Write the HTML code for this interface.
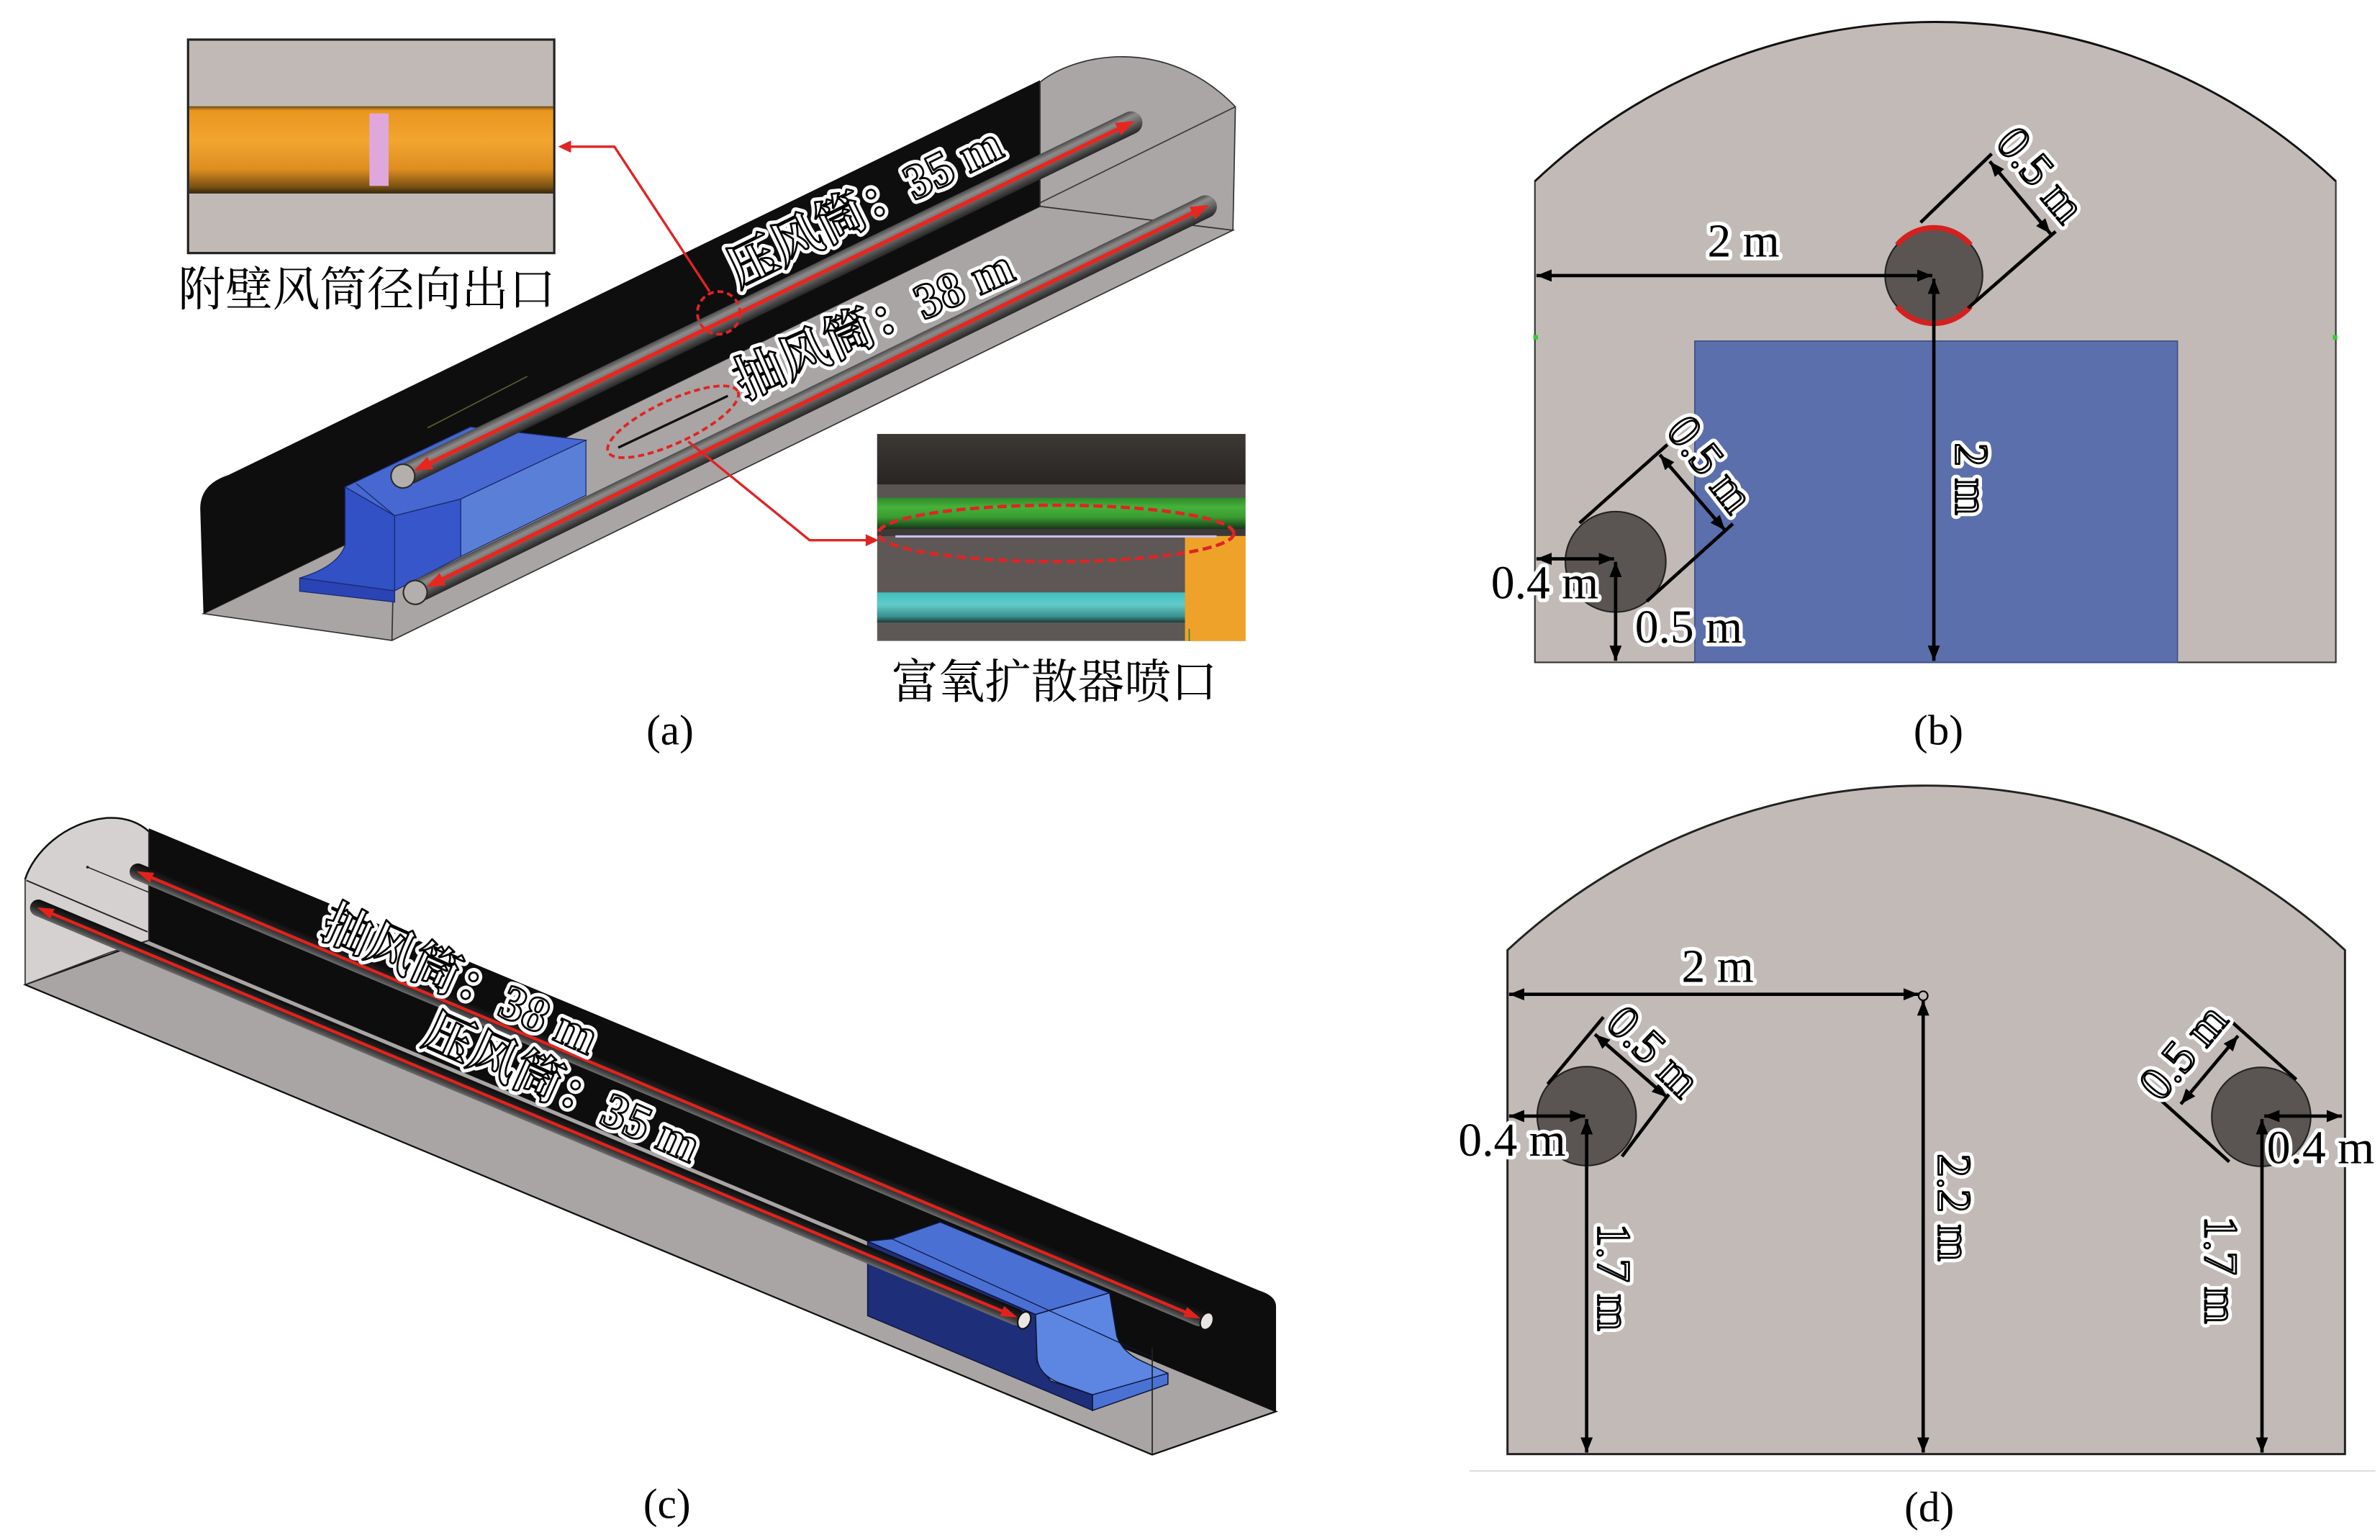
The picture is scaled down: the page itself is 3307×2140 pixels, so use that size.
<!DOCTYPE html>
<html><head><meta charset="utf-8">
<style>
html,body{margin:0;padding:0;background:#fff;}
svg{display:block;}
text{font-family:"Liberation Serif","Noto Serif CJK SC",serif;}
.h{fill:#fff;stroke:#fff;stroke-width:6;stroke-linejoin:round;}
.o{fill:#fff;stroke:#000;stroke-width:1.3;stroke-linejoin:round;}
.k{fill:#000;stroke:#fff;stroke-width:5;stroke-linejoin:round;paint-order:stroke;}
.d{stroke:#000;stroke-width:2.2;fill:none;}
.e{stroke:#000;stroke-width:2.2;fill:none;}
.cap{font-size:28px;fill:#000;}
.dim{font-size:31px;}
.ov{font-size:33px;font-weight:bold;}
</style></head><body>
<svg width="3307" height="2140" viewBox="0 0 1563 1011.4" preserveAspectRatio="none" xmlns="http://www.w3.org/2000/svg">
<defs>
 <marker id="ah" viewBox="0 0 10 8" refX="10" refY="4" markerWidth="10" markerHeight="8" markerUnits="userSpaceOnUse" orient="auto-start-reverse"><path d="M0,0L10,4L0,8Z" fill="#000"/></marker>
 <linearGradient id="pipeA" x1="0" y1="0" x2="0" y2="1">
  <stop offset="0" stop-color="#4a4a4a"/><stop offset="0.25" stop-color="#8e8c8b"/><stop offset="0.55" stop-color="#6c6a69"/><stop offset="1" stop-color="#262626"/>
 </linearGradient>
 <linearGradient id="pipeC" x1="0" y1="0" x2="0" y2="1">
  <stop offset="0" stop-color="#0c0c0c"/><stop offset="0.5" stop-color="#262626"/><stop offset="0.8" stop-color="#4a4a4a"/><stop offset="1" stop-color="#6e6e6e"/>
 </linearGradient>
 <linearGradient id="orng" x1="0" y1="0" x2="0" y2="1">
  <stop offset="0" stop-color="#6a4a12"/><stop offset="0.05" stop-color="#e8961e"/><stop offset="0.4" stop-color="#f3a531"/><stop offset="0.72" stop-color="#dd8e1f"/><stop offset="0.92" stop-color="#7a5214"/><stop offset="1" stop-color="#35270f"/>
 </linearGradient>
 <linearGradient id="topd" x1="0" y1="0" x2="0" y2="1">
  <stop offset="0" stop-color="#3c3834"/><stop offset="1" stop-color="#282523"/>
 </linearGradient>
 <linearGradient id="grn" x1="0" y1="0" x2="0" y2="1">
  <stop offset="0" stop-color="#2e8a28"/><stop offset="0.3" stop-color="#46b23a"/><stop offset="0.62" stop-color="#399c30"/><stop offset="1" stop-color="#17351a"/>
 </linearGradient>
 <linearGradient id="cyn" x1="0" y1="0" x2="0" y2="1">
  <stop offset="0" stop-color="#3fbfbf"/><stop offset="0.4" stop-color="#62cbc8"/><stop offset="0.8" stop-color="#3a8f8f"/><stop offset="1" stop-color="#1e3a3a"/>
 </linearGradient>
 <clipPath id="clip2"><rect x="576" y="285" width="242" height="136"/></clipPath>
</defs>

<rect x="0" y="0" width="1563" height="1011.4" fill="#fff"/>

<!-- ================= PANEL (a) ================= -->
<polygon points="133.6,403 257.4,420.6 809.7,151.2 683,135.5" fill="#a8a5a4" stroke="#333" stroke-width="0.8"/>
<path d="M133.6,403 L131.5,334 Q131.5,318 150,312 L683,52.7 L683,135.5 Z" fill="#0e0e0e"/>
<path d="M683,54 C705,36 765,22 811.3,70.1 L809.7,151.2 L683,135.5 Z" fill="#a9a6a5" stroke="#333" stroke-width="0.8"/>
<line x1="683" y1="133.2" x2="811.3" y2="70.1" stroke="#3a3a3a" stroke-width="0.8"/>
<line x1="280.8" y1="281" x2="346.3" y2="247.2" stroke="#55602a" stroke-width="0.8"/>
<line x1="259.2" y1="338.7" x2="257.4" y2="420.6" stroke="#333" stroke-width="0.8"/>

<!-- block (a) -->
<polygon points="196.8,379.6 259.2,388 259.2,395.4 196.8,388.3" fill="#2a44b5" stroke="#1a2a70" stroke-width="0.6"/>
<path d="M226.6,319.8 L259.2,338.7 L259.2,388 L196.8,379.6 Q222,372 226.6,358 Z" fill="#3151c4" stroke="#1a2a70" stroke-width="0.6"/>
<polygon points="259.2,338.7 302.6,327.7 302.6,365.5 259.2,388" fill="#3656c9" stroke="#1a2a70" stroke-width="0.6"/>
<polygon points="226.6,319.8 308.9,280.4 384.8,289.1 302.6,327.7 259.2,338.7" fill="#4668d0" stroke="#1a2a70" stroke-width="0.6"/>
<polygon points="302.6,327.7 384.8,289.1 384.8,325.3 302.6,365.5" fill="#5a7fd6" stroke="#1a2a70" stroke-width="0.6"/>
<line x1="233.8" y1="317.4" x2="259.2" y2="338.7" stroke="#1a2a70" stroke-width="0.6"/>

<!-- pipes (a) -->
<g transform="translate(264.6,312.7) rotate(-25.89)">
 <rect x="-2" y="-7.5" width="541" height="15" rx="7.5" fill="url(#pipeA)"/>
 <circle cx="0" cy="0" r="7.8" fill="#b3afad" stroke="#2a2a2a" stroke-width="1"/>
 <line x1="16" y1="0" x2="524" y2="0" stroke="#e8261f" stroke-width="2.6"/>
 <polygon points="8,0 20,-4.5 20,4.5" fill="#e8261f"/>
 <polygon points="534,0 522,-4.5 522,4.5" fill="#e8261f"/>
</g>
<g transform="translate(272.7,389.1) rotate(-26.02)">
 <rect x="-2" y="-7.5" width="587" height="15" rx="7.5" fill="url(#pipeA)"/>
 <circle cx="0" cy="0" r="7.8" fill="#b3afad" stroke="#2a2a2a" stroke-width="1"/>
 <line x1="16" y1="0" x2="570" y2="0" stroke="#e8261f" stroke-width="2.6"/>
 <polygon points="8,0 20,-4.5 20,4.5" fill="#e8261f"/>
 <polygon points="580,0 568,-4.5 568,4.5" fill="#e8261f"/>
</g>

<!-- red annotations (a) -->
<line x1="406" y1="294" x2="478" y2="260" stroke="#111" stroke-width="1.6"/>
<ellipse cx="442" cy="277" rx="47" ry="14" transform="rotate(-25 442 277)" fill="none" stroke="#e02424" stroke-width="1.8" stroke-dasharray="4 2.5"/>
<circle cx="472" cy="205.5" r="14" fill="none" stroke="#e02424" stroke-width="1.8" stroke-dasharray="4 2.5"/>
<polyline points="466,191.5 403.5,96.3 373,96.3" fill="none" stroke="#e02424" stroke-width="1.6"/>
<polygon points="366.5,96.3 375,92.3 375,100.3" fill="#e02424"/>
<polyline points="452,290 531.7,354.8 570,354.8" fill="none" stroke="#e02424" stroke-width="1.6"/>
<polygon points="577,354.8 568.5,350.8 568.5,358.8" fill="#e02424"/>

<!-- overlay texts (a) -->
<g transform="translate(568,136) rotate(-26.3)">
 <text class="h ov" x="0" y="0" text-anchor="middle" dominant-baseline="central" textLength="196" lengthAdjust="spacingAndGlyphs">压风筒：35 m</text>
 <text class="o ov" x="0" y="0" text-anchor="middle" dominant-baseline="central" textLength="196" lengthAdjust="spacingAndGlyphs">压风筒：35 m</text>
</g>
<g transform="translate(574,213) rotate(-23.8)">
 <text class="h ov" x="0" y="0" text-anchor="middle" dominant-baseline="central" textLength="196" lengthAdjust="spacingAndGlyphs">抽风筒：38 m</text>
 <text class="o ov" x="0" y="0" text-anchor="middle" dominant-baseline="central" textLength="196" lengthAdjust="spacingAndGlyphs">抽风筒：38 m</text>
</g>

<!-- inset 1 -->
<rect x="123.5" y="26" width="240.5" height="140.2" fill="#c0b9b5" stroke="#222" stroke-width="1.5"/>
<rect x="124.3" y="69.8" width="239" height="57.3" fill="url(#orng)"/>
<rect x="242.6" y="74.5" width="12.6" height="47.6" fill="#dfa8dc"/>
<text x="241" y="190.6" text-anchor="middle" dominant-baseline="central" font-size="31" textLength="248" lengthAdjust="spacingAndGlyphs">附壁风筒径向出口</text>

<!-- inset 2 -->
<g clip-path="url(#clip2)">
 <rect x="576" y="285" width="242" height="136" fill="#5d5856"/>
 <rect x="576" y="285" width="242" height="33.2" fill="url(#topd)"/>
 <rect x="576" y="318.2" width="242" height="8.7" fill="#5a5553"/>
 <rect x="576" y="326.9" width="242" height="20.5" fill="url(#grn)"/>
 <rect x="576" y="347.4" width="242" height="4.7" fill="#3d3937"/>
 <rect x="576" y="389.1" width="202.2" height="19.7" fill="url(#cyn)"/>
 <rect x="778.2" y="352" width="40" height="70" fill="#efa22a"/>
 <line x1="588" y1="352.3" x2="799" y2="352.3" stroke="#c8c0f0" stroke-width="1.5"/>
 <line x1="781" y1="423" x2="781" y2="413" stroke="#2a8a2a" stroke-width="0.8"/>
 <line x1="781" y1="423" x2="790" y2="423" stroke="#d02020" stroke-width="0.8"/>
</g>
<ellipse cx="693.5" cy="350.3" rx="116.8" ry="18.5" fill="none" stroke="#e02424" stroke-width="2.2" stroke-dasharray="6 3"/>
<text x="692.5" y="448.5" text-anchor="middle" dominant-baseline="central" font-size="31" textLength="214" lengthAdjust="spacingAndGlyphs">富氧扩散器喷口</text>

<text class="cap" x="440" y="489" text-anchor="middle">(a)</text>

<!-- ================= PANEL (b) ================= -->
<path d="M1008,435 L1008,119 A383 383 0 0 1 1534,119 L1534,435 Z" fill="#c1bab6" stroke="#333" stroke-width="1"/>
<path d="M1008,119 A383 383 0 0 1 1534,119" fill="none" stroke="#111" stroke-width="1.4"/>
<rect x="1113" y="224" width="317" height="211" fill="#5b6fad" stroke="#3d4f8a" stroke-width="0.8"/>
<rect x="1007" y="220" width="3" height="3" fill="#3c3"/>
<rect x="1532" y="220" width="3" height="3" fill="#3c3"/>
<ellipse cx="1270" cy="181" rx="32" ry="31" fill="#5a5552" stroke="#222" stroke-width="1"/>
<path d="M1245.9,160.8 A31.5 31.5 0 0 1 1294.1,160.8" fill="none" stroke="#d42020" stroke-width="3.5"/>
<path d="M1294.1,201.2 A31.5 31.5 0 0 1 1245.9,201.2" fill="none" stroke="#d42020" stroke-width="3.5"/>
<circle cx="1061" cy="369" r="33" fill="#5a5552" stroke="#222" stroke-width="1"/>

<line class="d" x1="1009" y1="181" x2="1269" y2="181" marker-start="url(#ah)" marker-end="url(#ah)"/>
<line class="d" x1="1270" y1="183" x2="1270" y2="434" marker-start="url(#ah)" marker-end="url(#ah)"/>
<line class="d" x1="1009" y1="367" x2="1060" y2="367" marker-start="url(#ah)" marker-end="url(#ah)"/>
<line class="d" x1="1061" y1="369" x2="1061" y2="434" marker-start="url(#ah)" marker-end="url(#ah)"/>
<line class="d" x1="1306.7" y1="106" x2="1346.6" y2="153.5" marker-start="url(#ah)" marker-end="url(#ah)"/>
<line class="e" x1="1261.3" y1="146.1" x2="1308" y2="101"/>
<line class="e" x1="1292.5" y1="202.3" x2="1350" y2="152"/>
<line class="d" x1="1090" y1="298.6" x2="1132.9" y2="348.3" marker-start="url(#ah)" marker-end="url(#ah)"/>
<line class="e" x1="1037.3" y1="343.5" x2="1095" y2="292"/>
<line class="e" x1="1081.5" y1="394.9" x2="1138" y2="344"/>

<text class="k dim" x="1145" y="168.5" text-anchor="middle">2 m</text>
<text class="k dim" x="1014.5" y="393" text-anchor="middle">0.4 m</text>
<text class="k dim" x="1109" y="422" text-anchor="middle">0.5 m</text>
<g transform="translate(1294.4,314.6) rotate(90)">
 <text class="h dim" x="0" y="0" text-anchor="middle" dominant-baseline="central">2 m</text>
 <text class="o dim" x="0" y="0" text-anchor="middle" dominant-baseline="central">2 m</text>
</g>
<g transform="translate(1340,115) rotate(50)">
 <text class="h dim" x="0" y="0" text-anchor="middle" dominant-baseline="central">0.5 m</text>
 <text class="o dim" x="0" y="0" text-anchor="middle" dominant-baseline="central">0.5 m</text>
</g>
<g transform="translate(1123,305) rotate(52)">
 <text class="h dim" x="0" y="0" text-anchor="middle" dominant-baseline="central">0.5 m</text>
 <text class="o dim" x="0" y="0" text-anchor="middle" dominant-baseline="central">0.5 m</text>
</g>

<text class="cap" x="1273" y="489" text-anchor="middle">(b)</text>

<!-- ================= PANEL (c) ================= -->
<polygon points="16.5,646.7 97.7,617.5 838,927 756.7,955.4" fill="#a9a5a4" stroke="#111" stroke-width="1"/>
<path d="M97.7,544 L826.8,847.5 Q838,851 838,858 L838,927 L97.7,617.5 Z" fill="#0d0d0d"/>
<path d="M16.5,646.7 L16.5,577.4 C22,560 42,540 70,537.2 C82,536.5 91,540 97.7,546 L97.7,617.5 L72.5,625.4 Z" fill="#d4d1d0" stroke="#333" stroke-width="0.8"/>
<path d="M16.5,577.4 C22,560 42,540 70,537.2 C82,536.5 91,540 97.7,546" fill="none" stroke="#111" stroke-width="1.2"/>
<line x1="17.3" y1="578.2" x2="96.9" y2="612" stroke="#222" stroke-width="0.9"/>
<line x1="57.5" y1="569.5" x2="97.7" y2="586" stroke="#222" stroke-width="0.7"/>
<circle cx="57.5" cy="569.5" r="0.9" fill="#222"/>
<line x1="16.5" y1="646.7" x2="756.7" y2="955.4" stroke="#111" stroke-width="1"/>
<line x1="756.7" y1="955.4" x2="838" y2="927" stroke="#111" stroke-width="1"/>

<!-- block (c) -->
<polygon points="569.8,815.2 680.1,863.3 681,894.8 690,907 717.5,916 717.5,926.3 569.8,864.1" fill="#1f2e78" stroke="#0e163c" stroke-width="0.7"/>
<polygon points="569.8,815.2 585.7,813.6 617.5,802.6 728.7,849.1 680.1,863.3" fill="#4a70d4" stroke="#0e163c" stroke-width="0.7"/>
<path d="M680.1,863.3 L728.7,849.1 L733.4,877.4 Q737,888 750,894 L767,901.9 L767,909 L717.5,926.3 L717.5,916 L695,908 Q681,902 681,890 Z" fill="#5d86e2" stroke="#0e163c" stroke-width="0.7"/>
<polygon points="717.5,916 767,901.9 767,909 717.5,926.3" fill="#4a72d4" stroke="#0e163c" stroke-width="0.7"/>
<line x1="585.7" y1="813.6" x2="756.7" y2="891.6" stroke="#0e163c" stroke-width="0.6"/>
<line x1="756.7" y1="955.4" x2="756.7" y2="885" stroke="#222" stroke-width="0.8"/>

<!-- pipes (c) -->
<g transform="translate(90.6,572.6) rotate(22.8)">
 <rect x="-5.5" y="-5.5" width="767" height="11" rx="5.5" fill="url(#pipeC)"/>
 <line x1="10" y1="0" x2="750" y2="0" stroke="#e3221c" stroke-width="2"/>
 <polygon points="-1,0 10,-3.5 10,3.5" fill="#e3221c"/>
 <polygon points="757,0 746,-3.5 746,3.5" fill="#e3221c"/>
 <ellipse cx="761.4" cy="0" rx="4" ry="5.8" fill="#e8e5e3" stroke="#111" stroke-width="1"/>
</g>
<g transform="translate(25.2,596.3) rotate(22.7)">
 <rect x="-5.5" y="-5.5" width="707" height="11" rx="5.5" fill="url(#pipeC)"/>
 <line x1="10" y1="0" x2="690" y2="0" stroke="#e3221c" stroke-width="2"/>
 <polygon points="-1,0 10,-3.5 10,3.5" fill="#e3221c"/>
 <polygon points="697,0 686,-3.5 686,3.5" fill="#e3221c"/>
 <ellipse cx="701.8" cy="0" rx="4" ry="5.8" fill="#e8e5e3" stroke="#111" stroke-width="1"/>
</g>

<g transform="translate(302,644) rotate(24)">
 <text class="h ov" x="0" y="0" text-anchor="middle" dominant-baseline="central" textLength="194" lengthAdjust="spacingAndGlyphs">抽风筒：38 m</text>
 <text class="o ov" x="0" y="0" text-anchor="middle" dominant-baseline="central" textLength="194" lengthAdjust="spacingAndGlyphs">抽风筒：38 m</text>
</g>
<g transform="translate(369,715) rotate(24)">
 <text class="h ov" x="0" y="0" text-anchor="middle" dominant-baseline="central" textLength="194" lengthAdjust="spacingAndGlyphs">压风筒：35 m</text>
 <text class="o ov" x="0" y="0" text-anchor="middle" dominant-baseline="central" textLength="194" lengthAdjust="spacingAndGlyphs">压风筒：35 m</text>
</g>

<text class="cap" x="438" y="997" text-anchor="middle">(c)</text>

<!-- ================= PANEL (d) ================= -->
<path d="M990,955 L990,624 A404 404 0 0 1 1540,624 L1540,955 Z" fill="#c1bab6" stroke="#222" stroke-width="1.4"/>
<line x1="965" y1="966" x2="1560" y2="966" stroke="#dcdcdc" stroke-width="1"/>
<circle cx="1042" cy="733" r="32.5" fill="#5a5552" stroke="#222" stroke-width="1"/>
<circle cx="1485" cy="733.5" r="32.5" fill="#5a5552" stroke="#222" stroke-width="1"/>

<line class="d" x1="991" y1="653" x2="1260" y2="653" marker-start="url(#ah)" marker-end="url(#ah)"/>
<circle cx="1263" cy="654" r="3" fill="none" stroke="#000" stroke-width="1"/>
<line class="d" x1="1263" y1="657" x2="1263" y2="954" marker-start="url(#ah)" marker-end="url(#ah)"/>
<line class="d" x1="991" y1="733" x2="1041" y2="733" marker-start="url(#ah)" marker-end="url(#ah)"/>
<line class="d" x1="1042" y1="735" x2="1042" y2="954" marker-start="url(#ah)" marker-end="url(#ah)"/>
<line class="d" x1="1487" y1="733" x2="1538" y2="733" marker-start="url(#ah)" marker-end="url(#ah)"/>
<line class="d" x1="1485.5" y1="735" x2="1485.5" y2="954" marker-start="url(#ah)" marker-end="url(#ah)"/>
<line class="d" x1="1047.4" y1="679.3" x2="1094.8" y2="720.6" marker-start="url(#ah)" marker-end="url(#ah)"/>
<line class="e" x1="1016.4" y1="712" x2="1053" y2="668"/>
<line class="e" x1="1065.2" y1="759.5" x2="1098" y2="716"/>
<line class="d" x1="1432.2" y1="725.1" x2="1469.8" y2="680.3" marker-start="url(#ah)" marker-end="url(#ah)"/>
<line class="e" x1="1463.9" y1="669.5" x2="1508" y2="709"/>
<line class="e" x1="1418.3" y1="721.9" x2="1464" y2="763"/>

<text class="k dim" x="1128" y="645" text-anchor="middle">2 m</text>
<text class="k dim" x="993" y="759" text-anchor="middle">0.4 m</text>
<text class="k dim" x="1524" y="764" text-anchor="middle">0.4 m</text>
<g transform="translate(1283,793) rotate(90)">
 <text class="h dim" x="0" y="0" text-anchor="middle" dominant-baseline="central">2.2 m</text>
 <text class="o dim" x="0" y="0" text-anchor="middle" dominant-baseline="central">2.2 m</text>
</g>
<g transform="translate(1059.4,838.8) rotate(90)">
 <text class="h dim" x="0" y="0" text-anchor="middle" dominant-baseline="central">1.7 m</text>
 <text class="o dim" x="0" y="0" text-anchor="middle" dominant-baseline="central">1.7 m</text>
</g>
<g transform="translate(1458,834) rotate(90)">
 <text class="h dim" x="0" y="0" text-anchor="middle" dominant-baseline="central">1.7 m</text>
 <text class="o dim" x="0" y="0" text-anchor="middle" dominant-baseline="central">1.7 m</text>
</g>
<g transform="translate(1085.7,690.8) rotate(44)">
 <text class="h dim" x="0" y="0" text-anchor="middle" dominant-baseline="central">0.5 m</text>
 <text class="o dim" x="0" y="0" text-anchor="middle" dominant-baseline="central">0.5 m</text>
</g>
<g transform="translate(1434,691) rotate(-50)">
 <text class="h dim" x="0" y="0" text-anchor="middle" dominant-baseline="central">0.5 m</text>
 <text class="o dim" x="0" y="0" text-anchor="middle" dominant-baseline="central">0.5 m</text>
</g>

<text class="cap" x="1267" y="999" text-anchor="middle">(d)</text>
</svg>
</body></html>
